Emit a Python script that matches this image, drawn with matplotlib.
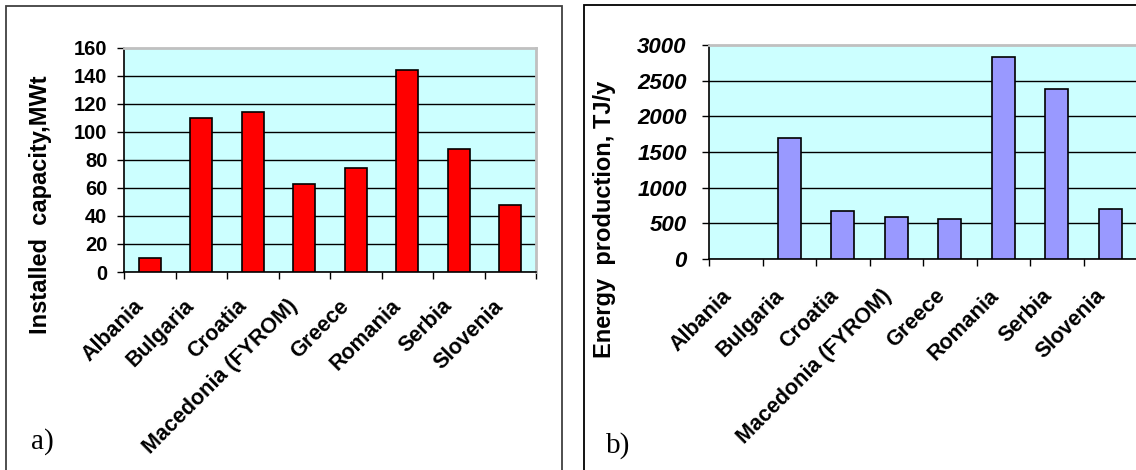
import matplotlib
matplotlib.use("Agg")
import matplotlib.pyplot as plt
import matplotlib.transforms as mtransforms
from matplotlib.patches import Rectangle
import numpy as np

# --- datos ---
countries = ["Albania", "Bulgaria", "Croatia", "Macedonia (FYROM)",
             "Greece", "Romania", "Serbia", "Slovenia"]
capacity_mwt = [10, 110, 114, 63, 74, 144, 88, 48]
energy_tjy = [0, 1690, 670, 590, 560, 2830, 2390, 700]
cap_ticks = [0, 20, 40, 60, 80, 100, 120, 140, 160]
energy_ticks = [0, 500, 1000, 1500, 2000, 2500, 3000]

plt.rcParams['font.family'] = ['Liberation Sans', 'DejaVu Sans']

W, H = 1136, 470
fig = plt.figure(figsize=(W / 100, H / 100), dpi=100)


def fx(px):
    return px / W


def fy(py):
    return 1 - py / H


# marcos de los paneles
fig.patches.append(Rectangle((fx(6), -0.05), fx(556), fy(6) + 0.05, transform=fig.transFigure,
                             fill=False, edgecolor='#404040', lw=1.3, zorder=0))
fig.patches.append(Rectangle((fx(584), -0.05), 0.6, fy(5) + 0.05, transform=fig.transFigure,
                             fill=False, edgecolor='black', lw=1.3, zorder=0))


def make_panel(rect, values, ticks, color, tick_fs, tick_style, ypad, lab_dx, lab_pad):
    ax = fig.add_axes(rect)
    x = np.arange(len(countries))
    edges = ['black' if v > 0 else 'none' for v in values]
    ax.bar(x, values, width=0.43, color=color, edgecolor=edges, linewidth=1.2, zorder=3)
    ax.set_xlim(-0.5, len(countries) - 0.5)
    ax.set_ylim(ticks[0], ticks[-1])
    ax.set_facecolor('#CCFFFF')
    ax.set_yticks(ticks)
    ax.set_yticklabels([str(t) for t in ticks], fontsize=tick_fs, fontweight='bold',
                       fontstyle=tick_style)
    ax.tick_params(axis='y', direction='out', length=5, width=1, pad=ypad)
    ax.yaxis.grid(True, color='black', linewidth=1)
    ax.get_ygridlines()[-1].set_visible(False)
    ax.set_axisbelow(True)

    ax.set_xticks(x)
    ax.set_xticks(np.arange(len(countries) + 1) - 0.5, minor=True)
    ax.tick_params(axis='x', which='major', length=0, pad=lab_pad)
    ax.tick_params(axis='x', which='minor', direction='out', length=5, width=1)
    ax.set_xticklabels(countries, fontsize=15.5, fontweight='bold', rotation=45,
                       ha='right', va='top', rotation_mode='anchor')
    off = mtransforms.ScaledTranslation(lab_dx / 100, 0, fig.dpi_scale_trans)
    for lbl in ax.get_xticklabels():
        lbl.set_transform(lbl.get_transform() + off)

    for s in ['left', 'bottom']:
        ax.spines[s].set_color('black')
        ax.spines[s].set_linewidth(1.2)
    for s in ['top', 'right']:
        ax.spines[s].set_color('#C0C0C0')
        ax.spines[s].set_linewidth(2)
    return ax


# --- panel a ---
ax1 = make_panel([fx(124), fy(272), fx(412), (272 - 48) / H], capacity_mwt, cap_ticks,
                 '#FF0000', 14.5, 'normal', 7, -17, 17)
fig.text(fx(41), fy(205), "Installed  capacity,MWt", rotation=90, ha='center', va='center',
         fontsize=17, fontweight='bold')
fig.text(fx(31), fy(442), "a)", fontsize=21, family='Liberation Serif', ha='left', va='center')

# --- panel b ---
ax2 = make_panel([fx(709), fy(259), fx(428), (259 - 45) / H], energy_tjy, energy_ticks,
                 '#9999FF', 16, 'italic', 11, -15, 19)
fig.text(fx(604), fy(219), "Energy  production, TJ/y", rotation=90, ha='center', va='center',
         fontsize=17, fontweight='bold')
fig.text(fx(606), fy(446), "b)", fontsize=21, family='Liberation Serif', ha='left', va='center')

fig.savefig("out.png", dpi=100)
